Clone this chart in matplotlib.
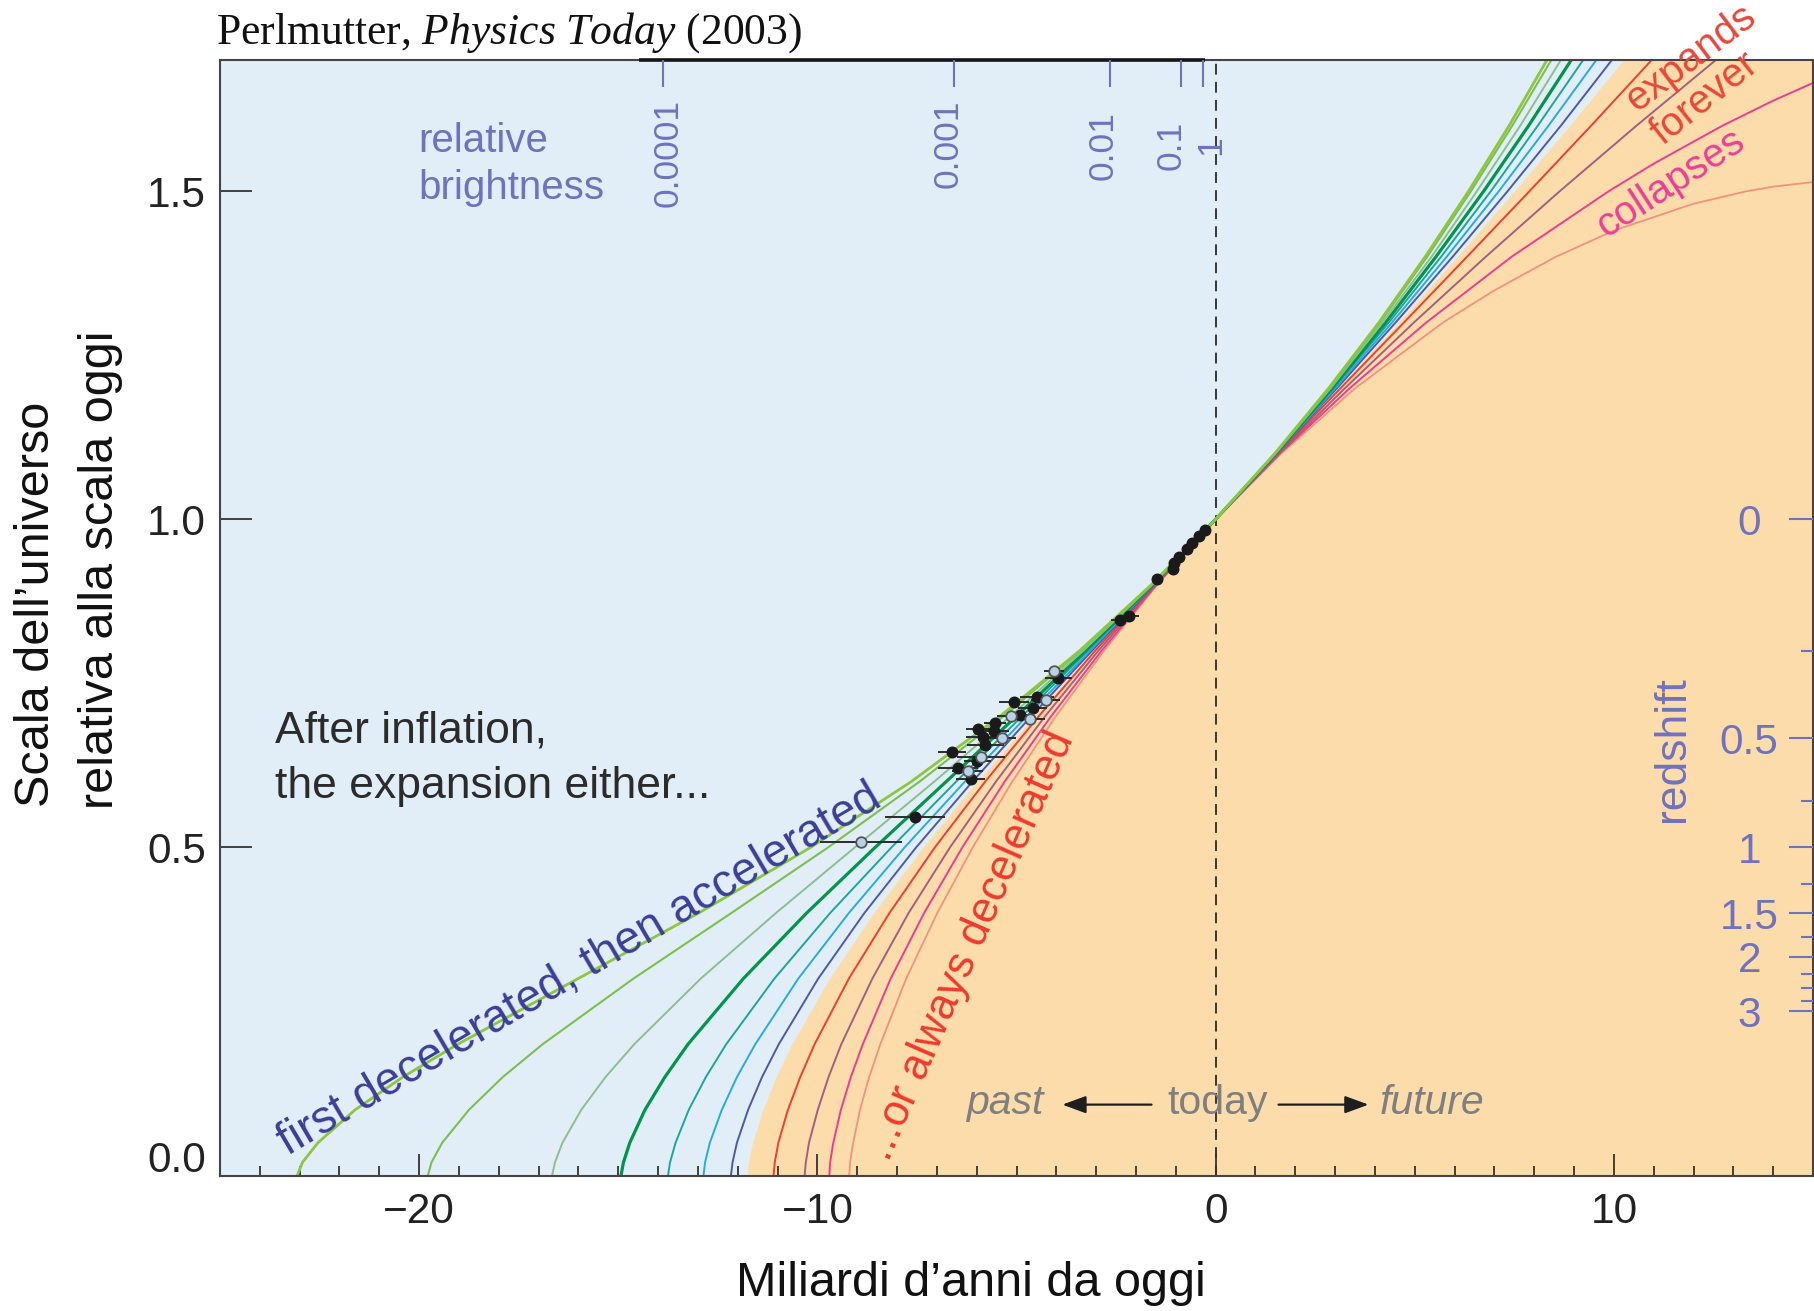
import matplotlib
matplotlib.use("Agg")
import matplotlib.pyplot as plt
import matplotlib.transforms as mtransforms
from matplotlib.ticker import MultipleLocator, FixedLocator, NullFormatter, NullLocator

plt.rcParams['font.family'] = ['Liberation Sans', 'DejaVu Sans']
plt.rcParams['mathtext.fontset'] = 'custom'
plt.rcParams['mathtext.rm'] = 'Liberation Serif'
plt.rcParams['mathtext.it'] = 'Liberation Serif:italic'

# ---------------- data ----------------
# scale factor levels (relative to today) at which curve times are read
a_levels = [0, 0.02, 0.05, 0.1, 0.15, 0.2, 0.3, 0.4, 0.5, 0.6, 0.7, 0.8, 0.9,
            1.0, 1.1, 1.2, 1.3, 1.4, 1.5, 1.6, 1.7]

# times (billions of years from today) of each curve at those levels
t_yellowgreen = [-23.06, -22.93, -22.54, -21.61, -20.41, -19.03, -16.01, -12.98, -10.17, -7.65, -5.41, -3.41, -1.62,
                 0, 1.48, 2.84, 4.10, 5.26, 6.35, 7.37, 8.32]
t_lightgreen = [-19.78, -19.69, -19.42, -18.75, -17.90, -16.90, -14.62, -12.16, -9.73, -7.44, -5.32, -3.38, -1.62,
                0, 1.49, 2.86, 4.13, 5.31, 6.41, 7.45, 8.43]
t_sage = [-16.66, -16.59, -16.40, -15.93, -15.32, -14.60, -12.93, -11.04, -9.06, -7.07, -5.15, -3.32, -1.60,
          0, 1.50, 2.89, 4.19, 5.42, 6.56, 7.65, 8.67]
t_darkgreen = [-14.93, -14.87, -14.71, -14.33, -13.83, -13.25, -11.86, -10.27, -8.55, -6.77, -5.00, -3.26, -1.59,
               0, 1.51, 2.93, 4.27, 5.53, 6.73, 7.86, 8.93]
t_teal = [-13.75, -13.70, -13.56, -13.23, -12.80, -12.29, -11.08, -9.68, -8.14, -6.52, -4.86, -3.21, -1.58,
          0, 1.52, 2.96, 4.35, 5.66, 6.91, 8.09, 9.23]
t_cyan = [-12.86, -12.82, -12.70, -12.40, -12.02, -11.56, -10.48, -9.21, -7.81, -6.30, -4.74, -3.15, -1.57,
          0, 1.53, 3.01, 4.43, 5.80, 7.11, 8.36, 9.56]
t_indigo = [-12.17, -12.13, -12.02, -11.74, -11.39, -10.97, -9.98, -8.82, -7.52, -6.11, -4.63, -3.10, -1.55,
            0, 1.54, 3.05, 4.52, 5.95, 7.33, 8.67, 9.95]
t_boundary = [-11.77, -11.73, -11.63, -11.37, -11.04, -10.64, -9.70, -8.59, -7.35, -6.00, -4.56, -3.07, -1.55,
              0, 1.55, 3.08, 4.59, 6.06, 7.50, 8.89, 10.24]
t_red = [-11.10, -11.07, -10.98, -10.74, -10.43, -10.07, -9.21, -8.19, -7.05, -5.79, -4.44, -3.02, -1.53,
         0, 1.56, 3.14, 4.73, 6.31, 7.88, 9.43, 10.95]
t_mauve = [-10.32, -10.29, -10.21, -9.99, -9.72, -9.40, -8.62, -7.71, -6.67, -5.52, -4.28, -2.94, -1.51,
           0, 1.59, 3.25, 4.98, 6.78, 8.64, 10.57, 12.56]

# the two collapsing curves, read as (t, a) pairs up to the right edge
t_magenta = [-9.70, -9.68, -9.60, -9.41, -9.16, -8.86, -8.16, -7.32, -6.36, -5.30, -4.13, -2.86, -1.49,
             0, 1.61, 3.37, 5.29, 7.43, 9.87, 11.0, 12.73, 14.0, 15.0]
a_magenta = [0, 0.02, 0.05, 0.1, 0.15, 0.2, 0.3, 0.4, 0.5, 0.6, 0.7, 0.8, 0.9,
             1.0, 1.1, 1.2, 1.3, 1.4, 1.5, 1.542, 1.6, 1.638, 1.665]
t_salmon = [-9.20, -9.18, -9.10, -8.93, -8.70, -8.42, -7.77, -6.99, -6.10, -5.11, -4.01, -2.80, -1.47,
            0, 1.64, 3.51, 5.71, 7.0, 8.54, 10.0, 12.0, 13.33, 14.0, 15.0]
a_salmon = [0, 0.02, 0.05, 0.1, 0.15, 0.2, 0.3, 0.4, 0.5, 0.6, 0.7, 0.8, 0.9,
            1.0, 1.1, 1.2, 1.3, 1.349, 1.4, 1.44, 1.481, 1.5, 1.507, 1.514]

# supernova points: time, scale, horizontal error, open marker?
sn_t = [-0.26, -0.41, -0.60, -0.72, -0.93, -1.04, -1.06, -1.47, -2.41, -2.18,
        -4.06, -3.95, -4.48, -4.27, -5.06, -4.59, -4.90, -5.15, -4.66, -5.54,
        -5.57, -5.97, -5.84, -5.36, -5.78, -6.62, -5.90, -5.99, -6.47, -6.23,
        -6.15, -7.55, -8.90]
sn_a = [0.983, 0.974, 0.964, 0.955, 0.943, 0.933, 0.925, 0.909, 0.847, 0.853,
        0.769, 0.758, 0.729, 0.725, 0.721, 0.713, 0.702, 0.700, 0.696, 0.690,
        0.678, 0.680, 0.669, 0.667, 0.656, 0.646, 0.638, 0.632, 0.621, 0.617,
        0.604, 0.546, 0.509]
sn_err = [0, 0, 0, 0, 0, 0, 0, 0.12, 0.22, 0.25,
          0.25, 0.34, 0.42, 0.36, 0.38, 0.36, 0.34, 0.34, 0.38, 0.27,
          0.38, 0.30, 0.42, 0.34, 0.46, 0.36, 0.60, 0.34, 0.50, 0.38,
          0.36, 0.75, 1.03]
sn_open = [False, False, False, False, False, False, False, False, False, False,
           True, False, False, True, False, False, False, True, True, False,
           False, False, False, True, False, False, True, False, False, True,
           False, False, True]

# axis tick values
x_major = [-20, -10, 0, 10]
y_ticks = [0.0, 0.5, 1.0, 1.5]
y_ticklabels = ['', '0.5', '1.0', '1.5']
redshift_major = [0, 0.5, 1, 1.5, 2, 3]
redshift_labels = ['0', '0.5', '1', '1.5', '2', '3']
redshift_minor = [0.25, 0.75, 1.25, 1.75, 2.25, 2.5, 2.75]
brightness_tick_t = [-13.87, -6.58, -2.66, -0.88, -0.31]
brightness_labels = ['0.0001', '0.001', '0.01', '0.1', '1']
brightness_label_t = [-13.76, -6.72, -2.82, -1.11, -0.12]
brightness_label_a = [1.559, 1.573, 1.570, 1.570, 1.570]

# ---------------- styling ----------------
BLUE_BG = '#e1eef7'
ORANGE_BG = '#fddcab'
PERI = '#6f72be'
TICKC = '#333333'

fig = plt.figure(figsize=(18.14, 13.11), dpi=100)
fig.patch.set_facecolor('white')
W, H = 1814.0, 1311.0
ax = fig.add_axes([220 / W, 1 - 1175.5 / H, (1813 - 220) / W, (1175.5 - 60) / H])
ax.set_xlim(-25, 15)
ax.set_ylim(0, 1.7)
ax.set_facecolor(BLUE_BG)

ax.fill_betweenx(a_levels, t_boundary, 15, color=ORANGE_BG, lw=0, zorder=0.5)
ax.axvline(0, color='#2a2a2a', lw=1.3, ls=(0, (6, 4)), zorder=1)

curves = [
    (t_salmon, a_salmon, '#f4917f', 1.3),
    (t_magenta, a_magenta, '#ec3d93', 1.4),
    (t_mauve, a_levels, '#a35f82', 1.4),
    (t_red, a_levels, '#ef3e33', 1.4),
    (t_indigo, a_levels, '#4d59a6', 1.4),
    (t_cyan, a_levels, '#27aae1', 1.4),
    (t_teal, a_levels, '#1da59b', 1.4),
    (t_darkgreen, a_levels, '#00954a', 2.3),
    (t_sage, a_levels, '#8bbf8e', 1.4),
    (t_lightgreen, a_levels, '#7cbf50', 1.5),
    (t_yellowgreen, a_levels, '#8dc640', 2.0),
]
for tt, aa, col, lw in curves:
    ax.plot(tt, aa, color=col, lw=lw, zorder=2, solid_joinstyle='round', solid_capstyle='round')

# supernova data
ax.errorbar(sn_t, sn_a, xerr=sn_err, fmt='none', ecolor='#2b2b2b', elinewidth=1.4, capsize=0, zorder=3)
ft = [t for t, o in zip(sn_t, sn_open) if not o]
fa = [a for a, o in zip(sn_a, sn_open) if not o]
ot = [t for t, o in zip(sn_t, sn_open) if o]
oa = [a for a, o in zip(sn_a, sn_open) if o]
ax.plot(ft, fa, 'o', ms=7.6, mfc='#1a1a1a', mec='#1a1a1a', mew=1, zorder=4, ls='none')
ax.plot(ot, oa, 'o', ms=7.6, mfc='#b8d3e8', mec='#555555', mew=1.3, zorder=4, ls='none')

# ---------------- axes ticks ----------------
ax.xaxis.set_major_locator(FixedLocator(x_major))
ax.xaxis.set_minor_locator(MultipleLocator(1))
ax.tick_params(axis='x', which='major', direction='in', length=16, width=1.3, color=TICKC,
               labelsize=30.5, pad=12, labelcolor='#222222')
ax.tick_params(axis='x', which='minor', direction='in', length=7.5, width=1.3, color=TICKC)
ax.set_yticks(y_ticks)
ax.set_yticklabels(y_ticklabels)
ax.tick_params(axis='y', which='major', direction='in', length=23, width=1.3, color=TICKC,
               labelsize=30.5, pad=10, labelcolor='#222222')
# the 0.0 label sits slightly above its tick
ax.annotate('0.0', xy=(0, y_ticks[0]), xycoords=('axes fraction', 'data'), xytext=(-10, 10.5),
            textcoords='offset points', ha='right', va='center', fontsize=30.5, color='#222222',
            annotation_clip=False)
for s in ax.spines.values():
    s.set_color('#444444')
    s.set_linewidth(1.5)

# brightness scale on top
axt = ax.twiny()
axt.set_xlim(-25, 15)
axt.xaxis.set_major_locator(FixedLocator(brightness_tick_t))
axt.xaxis.set_minor_locator(NullLocator())
axt.xaxis.set_major_formatter(NullFormatter())
axt.tick_params(axis='x', which='major', direction='in', length=19.5, width=1.5, color=PERI,
                top=True, labeltop=False, bottom=False, labelbottom=False)
for s in axt.spines.values():
    s.set_visible(False)
ax.plot([-14.49, -0.26], [1.7, 1.7], color='#151515', lw=2.6, solid_capstyle='butt',
        clip_on=False, zorder=6)
for lt, la, lab in zip(brightness_label_t, brightness_label_a, brightness_labels):
    ax.text(lt, la, lab, rotation=90, ha='center', va='center', fontsize=25.5, color=PERI, zorder=6)

# redshift scale on right
axr = ax.twinx()
axr.set_ylim(0, 1.7)
axr.yaxis.set_major_locator(FixedLocator([1 / (1 + z) for z in redshift_major]))
axr.yaxis.set_minor_locator(FixedLocator([1 / (1 + z) for z in redshift_minor]))
axr.yaxis.set_major_formatter(NullFormatter())
axr.tick_params(axis='y', which='major', direction='in', length=17, width=1.5, color=PERI,
                right=True, labelright=False, left=False)
axr.tick_params(axis='y', which='minor', direction='in', length=8.5, width=1.5, color=PERI,
                right=True, left=False)
for s in axr.spines.values():
    s.set_visible(False)
tr_r = mtransforms.blended_transform_factory(ax.transAxes, ax.transData)
for z, lab in zip(redshift_major, redshift_labels):
    ax.text(0.960, 1 / (1 + z), lab, transform=tr_r, ha='center', va='center_baseline',
            fontsize=30.5, color=PERI, zorder=6)
ax.text((1672 - 220) / 1593, 0.650, 'redshift', transform=tr_r, rotation=90,
        ha='center', va='center', fontsize=32, color=PERI, zorder=6)

ax.text(-20.03, 1.577, 'relative', ha='left', va='center', fontsize=29, color=PERI, zorder=6)
ax.text(-20.03, 1.505, 'brightness', ha='left', va='center', fontsize=29, color=PERI, zorder=6)

# ---------------- annotations ----------------
ax.text(-23.62, 0.678, 'After inflation,', ha='left', va='center', fontsize=32, color='#2b2b2b', zorder=6)
ax.text(-23.62, 0.593, 'the expansion either...', ha='left', va='center', fontsize=32, color='#2b2b2b', zorder=6)

ax.text(-23.3, 0.03, 'first decelerated, then accelerated', rotation=30.5, rotation_mode='anchor',
        ha='left', va='baseline', fontsize=33, color='#3b3e98', zorder=6)
ax.text(-8.2, 0.02, '...or always decelerated', rotation=66.4, rotation_mode='anchor',
        ha='left', va='baseline', fontsize=31.5, color='#ee3a2e', zorder=6)

ax.text(11.92, 1.703, 'expands', rotation=37, ha='center', va='center', fontsize=29,
        color='#e8473a', clip_on=False, zorder=6)
ax.text(12.27, 1.642, 'forever', rotation=38.5, ha='center', va='center', fontsize=29,
        color='#e8473a', clip_on=False, zorder=6)
ax.text(11.43, 1.5125, 'collapses', rotation=33, ha='center', va='center', fontsize=29,
        color='#ea3f96', clip_on=False, zorder=6)

GRAY = '#7f7f7f'
ax.text(-5.29, 0.094, 'past', style='italic', ha='center', va='baseline', fontsize=29.5, color=GRAY, zorder=6)
ax.text(0.06, 0.094, 'today', ha='center', va='baseline', fontsize=29.5, color=GRAY, zorder=6)
ax.text(5.44, 0.094, 'future', style='italic', ha='center', va='baseline', fontsize=29.5, color=GRAY, zorder=6)
arrow_style = dict(arrowstyle='-|>,head_length=0.6,head_width=0.22', color='#1e1e1e', lw=1.6,
                   mutation_scale=24, shrinkA=0, shrinkB=0)
ax.annotate('', xy=(-3.85, 0.108), xytext=(-1.61, 0.108), arrowprops=arrow_style, zorder=6)
ax.annotate('', xy=(3.84, 0.108), xytext=(1.58, 0.108), arrowprops=arrow_style, zorder=6)

# labels and title
fig.text(37 / W, 1 - 604 / H, 'Scala dell\u2019universo', rotation=90, ha='center', va='center',
         fontsize=35, color='#111111')
fig.text(101 / W, 1 - 570 / H, 'relativa alla scala oggi', rotation=90, ha='center', va='center',
         fontsize=35, color='#111111')
fig.text(970.7 / W, 1 - 1296 / H, 'Miliardi d\u2019anni da oggi', ha='center', va='baseline',
         fontsize=35, color='#111111')
fig.text(216 / W, 1 - 44 / H, r'Perlmutter, $\mathit{Physics\ Today}$ (2003)', ha='left', va='baseline',
         fontsize=31.4, family='Liberation Serif', color='#111111')

fig.savefig('out.png', dpi=100, facecolor='white')
